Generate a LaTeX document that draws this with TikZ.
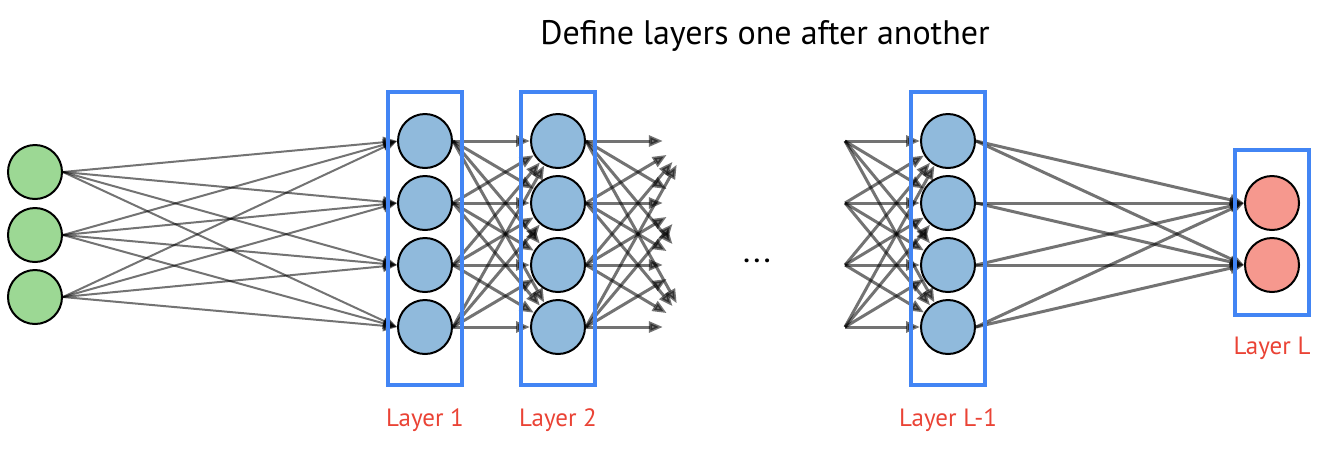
\documentclass[tikz,border=0pt]{standalone}
\usepackage{fontspec}
\setmainfont{PT Sans}
\usepackage{tikz}
\usetikzlibrary{arrows.meta,positioning,fit}
\definecolor{hidblue}{RGB}{144,186,220}
\definecolor{inpgreen}{RGB}{156,216,148}
\definecolor{outred}{RGB}{246,152,142}
\definecolor{boxblue}{RGB}{66,133,244}
\definecolor{labred}{RGB}{234,67,53}
\tikzset{neu/.style={circle,draw,line width=2pt,minimum size=54pt,inner sep=0pt},
  hid/.style={neu,fill=hidblue},
  inp/.style={neu,fill=inpgreen},
  outp/.style={neu,fill=outred},
  ghost/.style={circle,minimum size=54pt,inner sep=0pt},
  lbox/.style={draw=boxblue,line width=3.5pt,inner xsep=9pt,inner ysep=25.5pt,yshift=-4.5pt},
  lab/.style={text=labred,font=\fontsize{25}{25}\selectfont},
  wt/.style={draw=black,opacity=0.55,line width=3pt,-{Triangle[length=14pt,width=11pt]}}}

\begin{document}
\begin{tikzpicture}[x=1pt,y=-1pt]
        \useasboundingbox (0,0) rectangle (1329,448);
        \node[font=\fontsize{34}{34}\selectfont,anchor=base] (title) at (765,44) {Define layers one after another};

        % neurons
        \foreach \k/\y in {1/172,2/235,3/297} \node[inp] (i\k) at (35,\y) {};
        \foreach \k/\y in {1/141,2/203,3/265,4/327} {
            \node[hid] (a\k) at (425,\y) {};
            \node[hid] (b\k) at (558,\y) {};
            \node[hid] (c\k) at (948,\y) {};
            \node[ghost] (n\k) at (690,\y) {};
            \coordinate (p\k) at (845,\y);
        }
        \node[outp] (o1) at (1272,203) {};
        \node[outp] (o2) at (1272,265) {};
        \node[font=\bfseries\fontsize{25}{25}\selectfont,anchor=base] (dots) at (757,262) {.\,.\,.};

        % weights
        \foreach \i in {1,2,3} \foreach \j in {1,...,4} \draw[wt,line width=2pt] (i\i.east) -- (a\j.west);
        \foreach \i in {1,...,4} \foreach \j in {1,...,4} {
            \draw[wt] (a\i.east) -- (b\j);
            \draw[wt] (b\i.east) -- (n\j);
            \draw[wt] (p\i) -- (c\j);
        }
        \foreach \i in {1,...,4} \foreach \j in {1,2} \draw[wt] (c\i.east) -- (o\j.west);

        % layers
        \node[lbox,fit=(a1)(a4)] (box1) {};
        \node[lbox,fit=(b1)(b4)] (box2) {};
        \node[lbox,fit=(c1)(c4)] (boxl1) {};
        \node[lbox,inner ysep=23.5pt,yshift=6pt,fit=(o1)(o2)] (boxl) {};
        \node[lab,below=18pt of box1] (l1) {Layer 1};
        \node[lab,below=18pt of box2] (l2) {Layer 2};
        \node[lab,below=18pt of boxl1] (ll1) {Layer L-1};
        \node[lab,below=17pt of boxl] (ll) {Layer L};
    \end{tikzpicture}
\end{document}
